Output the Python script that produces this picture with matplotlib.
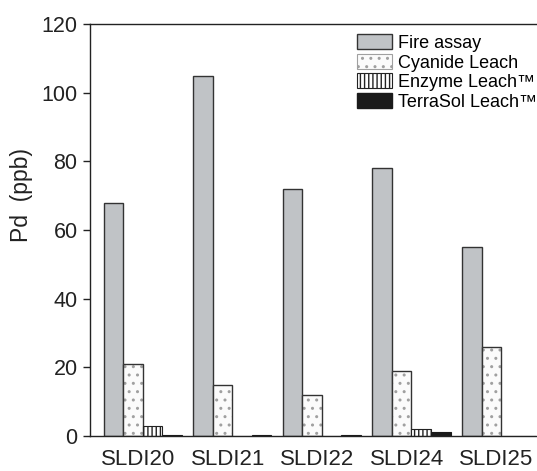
import numpy as np
import matplotlib.pyplot as plt
from matplotlib.patches import Patch

plt.rcParams['font.family'] = ['Liberation Sans', 'DejaVu Sans']
plt.rcParams['hatch.linewidth'] = 1.0

# ----------------------------------------------------------------
# Data (Pd, ppb)
# ----------------------------------------------------------------
samples  = ['SLDI20', 'SLDI21', 'SLDI22', 'SLDI24', 'SLDI25']
fire     = [68, 105, 72, 78, 55]
cyanide  = [21, 15, 12, 19, 26]
enzyme   = [3, 0, 0, 2, 0]
terrasol = [0.4, 0.4, 0.4, 1.2, 0]

series_names = ['Fire assay', 'Cyanide Leach', 'Enzyme Leach\u2122',
                'TerraSol Leach\u2122']

# ----------------------------------------------------------------
# Plot
# ----------------------------------------------------------------
fig = plt.figure(figsize=(5.37, 4.71), dpi=100)
ax = fig.add_axes([0.1676, 0.0743, 0.8305, 0.8747])

x = np.arange(len(samples))
w = 0.218
edge = '#333333'
grey = '#c0c3c6'
stipple = '#a0a0a0'

ax.bar(x - 1.5 * w, fire, w, color=grey, edgecolor=edge, linewidth=1)

# cyanide: grey stipple, then dark outline
ax.bar(x - 0.5 * w, cyanide, w, color='#fbfbfb', edgecolor=stipple,
       hatch='..', linewidth=0)
ax.bar(x - 0.5 * w, cyanide, w, fill=False, edgecolor=edge, linewidth=1)

ax.bar(x + 0.5 * w, enzyme, w, color='white', edgecolor='#222222',
       hatch='||||', linewidth=0.8)
ax.bar(x + 1.5 * w, terrasol, w, color='#1a1a1a', edgecolor='#1a1a1a',
       linewidth=0.8)

handles = [
    Patch(facecolor=grey, edgecolor=edge, linewidth=1),
    Patch(facecolor='#fbfbfb', edgecolor=stipple, hatch='..', linewidth=0.8),
    Patch(facecolor='white', edgecolor='#222222', hatch='||||', linewidth=0.8),
    Patch(facecolor='#1a1a1a', edgecolor='#1a1a1a'),
]
ax.legend(handles, series_names, loc='upper left',
          bbox_to_anchor=(0.599, 0.975), frameon=False, fontsize=13,
          handlelength=1.95, handleheight=0.9, handletextpad=0.3,
          labelspacing=0.1, borderpad=0, borderaxespad=0)

ax.set_xlim(-0.59, 4.39)
ax.set_ylim(0, 120)
ax.set_yticks(np.arange(0, 121, 20))
ax.set_xticks(x - 0.05)
ax.set_xticklabels(samples, fontsize=16)
ax.tick_params(axis='x', length=0, pad=9, colors='#222222')
ax.tick_params(axis='y', direction='out', length=5, width=1,
               labelsize=15.5, pad=4, colors='#222222')

ax.set_ylabel('Pd  (ppb)', fontsize=16.5, color='#222222')
ax.yaxis.set_label_coords(-0.127, 0.585)

ax.spines['right'].set_visible(False)
for s in ['left', 'bottom', 'top']:
    ax.spines[s].set_color('#222222')
    ax.spines[s].set_linewidth(1)

plt.savefig('out.png', dpi=100)
